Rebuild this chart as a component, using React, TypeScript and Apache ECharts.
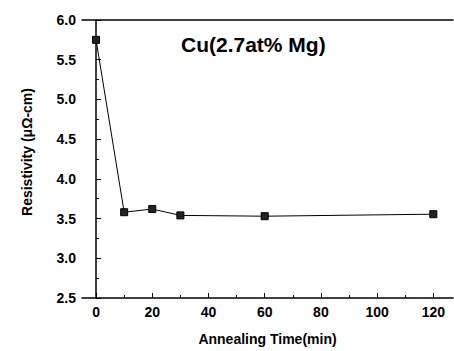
import React, { useEffect, useRef } from "react";
import * as echarts from "echarts";

const times = [0, 10, 20, 30, 60, 120];
const resistivity = [5.75, 3.58, 3.62, 3.54, 3.53, 3.555];
const xMajorTicks = [0, 20, 40, 60, 80, 100, 120];
const xMinorTicks = [10, 30, 50, 70, 90, 110];
const title = "Cu(2.7at% Mg)";
const xName = "Annealing Time(min)";
const yName = "Resistivity (μΩ-cm)";

const FONT = "Liberation Sans, Arial, sans-serif";

export default function App() {
  const ref = useRef<HTMLDivElement>(null);
  useEffect(() => {
    if (!ref.current) return;
    const chart = echarts.init(ref.current, null, { renderer: "svg" });
    const grid = { left: 82, top: 20, right: 1, bottom: 53 };
    chart.setOption({
      animation: false,
      backgroundColor: "#fff",
      grid,
      title: {
        text: title,
        left: 176,
        top: 29,
        textStyle: { fontFamily: FONT, fontWeight: "bold", fontSize: 21, color: "#000" },
      },
      xAxis: [
        {
          type: "value",
          min: -5,
          max: 127,
          name: xName,
          nameLocation: "middle",
          nameGap: 34,
          nameTextStyle: { fontFamily: FONT, fontWeight: "bold", fontSize: 14, color: "#000" },
          axisLine: { lineStyle: { color: "#000", width: 1.5 } },
          axisTick: { inside: true, length: 5, customValues: xMajorTicks, lineStyle: { color: "#000" } },
          axisLabel: { customValues: xMajorTicks, fontFamily: FONT, fontWeight: "bold", fontSize: 14, color: "#000", margin: 7 },
          splitLine: { show: false },
        },
        {
          type: "value",
          min: -5,
          max: 127,
          position: "bottom",
          axisLine: { show: false },
          axisTick: { inside: true, length: 3, customValues: xMinorTicks, lineStyle: { color: "#000" } },
          axisLabel: { show: false, customValues: xMinorTicks },
          splitLine: { show: false },
        },
        {
          type: "value",
          min: -5,
          max: 127,
          position: "top",
          axisLine: { lineStyle: { color: "#000", width: 1.5 } },
          axisTick: { show: false },
          axisLabel: { show: false },
          splitLine: { show: false },
        },
      ],
      yAxis: [
        {
          type: "value",
          min: 2.5,
          max: 6,
          interval: 0.5,
          name: yName,
          nameLocation: "middle",
          nameGap: 48,
          nameTextStyle: { fontFamily: FONT, fontWeight: "bold", fontSize: 14, color: "#000", padding: [0, 0, 0, 14] },
          axisLine: { lineStyle: { color: "#000", width: 1.5 } },
          axisTick: { inside: true, length: 5, lineStyle: { color: "#000" } },
          minorTick: { show: true, splitNumber: 2, length: 3, lineStyle: { color: "#000" } },
          axisLabel: {
            fontFamily: FONT,
            fontWeight: "bold",
            fontSize: 14,
            color: "#000",
            margin: 6,
            formatter: (v: number) => v.toFixed(1),
          },
          splitLine: { show: false },
        },
      ],
      series: [
        {
          type: "line",
          data: times.map((t, i) => [t, resistivity[i]]),
          symbol: "rect",
          symbolSize: 7,
          lineStyle: { color: "#000", width: 1 },
          itemStyle: { color: "#222", borderColor: "#000", borderWidth: 1 },
        },
      ],
    });
    return () => chart.dispose();
  }, []);
  return (
    <div style={{ position: "absolute", left: 0, top: 0, width: 454, height: 351 }}>
      <div ref={ref} style={{ width: 454, height: 351 }} />
    </div>
  );
}
